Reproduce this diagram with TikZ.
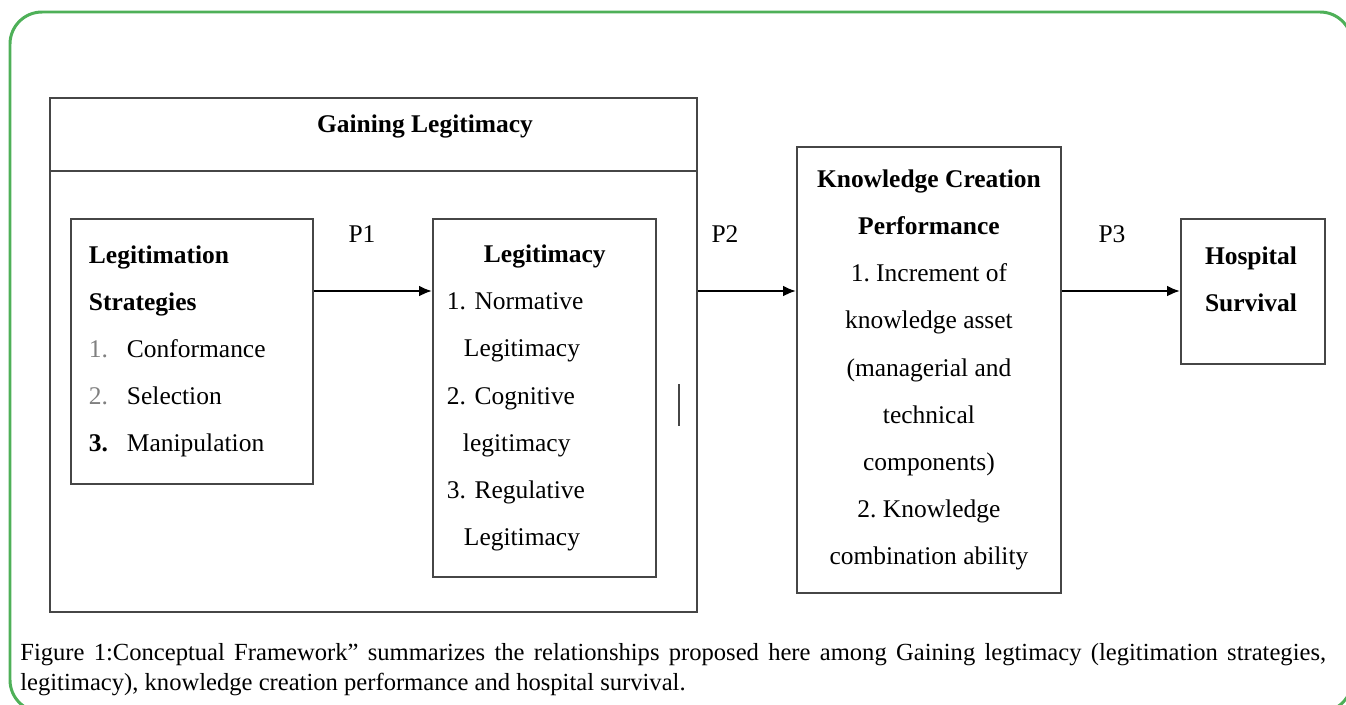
\documentclass[tikz,border=0pt]{standalone}
\usepackage{fontspec}
\setmainfont{Liberation Serif}
\usetikzlibrary{positioning,arrows.meta}
\definecolor{framegreen}{RGB}{78,176,88}
\definecolor{boxgray}{RGB}{70,70,70}
\tikzstyle{box}=[rectangle, draw=boxgray, line width=1.1pt, inner sep=0pt, anchor=north west]
\tikzstyle{txt}=[inner sep=0pt, font=\fontsize{14.5pt}{26.8pt}\selectfont]
\tikzstyle{boldtxt}=[inner sep=0pt, font=\fontsize{14.5pt}{26.8pt}\selectfont\bfseries]
\tikzstyle{arr}=[-{Latex[length=2.6mm, width=2.2mm]}, line width=1.3pt]
\newcommand{\itemno}[1]{\makebox[0.76cm][l]{#1}}
\newcommand{\captionfont}{\fontsize{14pt}{17pt}\selectfont\hyphenpenalty=10000\relax}
\frenchspacing

\begin{document}
\begin{tikzpicture}[x=0.02cm, y=-0.02cm]
	\useasboundingbox (0,0) rectangle (1346,704);
	\clip (0,0) rectangle (1346,704);
	\draw[framegreen, line width=1.7pt, rounded corners=0.64cm] (10,12) rectangle (1352,712);

	% gaining legitimacy
	\node[box, minimum width=12.94cm, minimum height=10.28cm] (gain) at (49,97) {};
	\coordinate (head) at (0,171);
	\draw[draw=boxgray, line width=1.1pt] (gain.west |- head) -- (gain.east |- head);
	\node[boldtxt] (gaintitle) at (425,126) {Gaining Legitimacy};

	\node[box, txt, minimum width=4.84cm, minimum height=5.3cm, text width=4.12cm, align=left] (strat) at (70,218)
		{\textbf{Legitimation}\\
		 \textbf{Strategies}\\
		 \itemno{\color{gray}1.}Conformance\\
		 \itemno{\color{gray}2.}Selection\\
		 \itemno{\textbf{3.}}Manipulation};
	\node[box, txt, minimum width=4.46cm, minimum height=7.16cm, text width=3.9cm, align=left] (legit) at (432,218)
		{\hspace*{0.74cm}\textbf{Legitimacy}\\
		 1. Normative\\
		 \hspace*{0.34cm}Legitimacy\\
		 2. Cognitive\\
		 \hspace*{0.32cm}legitimacy\\
		 3. Regulative\\
		 \hspace*{0.34cm}Legitimacy};
	\draw[boxgray, line width=1.6pt] (679,384) -- (679,426);

	% knowledge creation and survival
	\node[box, txt, minimum width=5.28cm, minimum height=8.92cm, align=center] (kcp) at (796,146)
		{\textbf{Knowledge Creation}\\
		 \textbf{Performance}\\
		 1. Increment of\\
		 knowledge asset\\
		 (managerial and\\
		 technical\\
		 components)\\
		 2. Knowledge\\
		 combination ability};
	\node[box, minimum width=2.88cm, minimum height=2.9cm] (hosp) at (1180,218) {};
	\node[boldtxt, align=center] (hosptext) at (1251,279) {Hospital\\Survival};

	% propositions
	\coordinate (row) at (0,291);
	\draw[arr] (strat.east |- row) -- (legit.west |- row);
	\draw[arr] (gain.east |- row) -- (kcp.west |- row);
	\draw[arr] (kcp.east |- row) -- (hosp.west |- row);
	\node[txt] (p1) at (362,234) {P1};
	\node[txt] (p2) at (725,234) {P2};
	\node[txt] (p3) at (1112,234) {P3};

	\node[inner sep=0pt, anchor=north west, text width=26.12cm, align=justify, font=\captionfont] (caption) at (20,643)
		{Figure 1:Conceptual Framework” summarizes the relationships proposed here among Gaining legtimacy (legitimation strategies, legitimacy), knowledge creation performance and hospital survival.};
\end{tikzpicture}
\end{document}
